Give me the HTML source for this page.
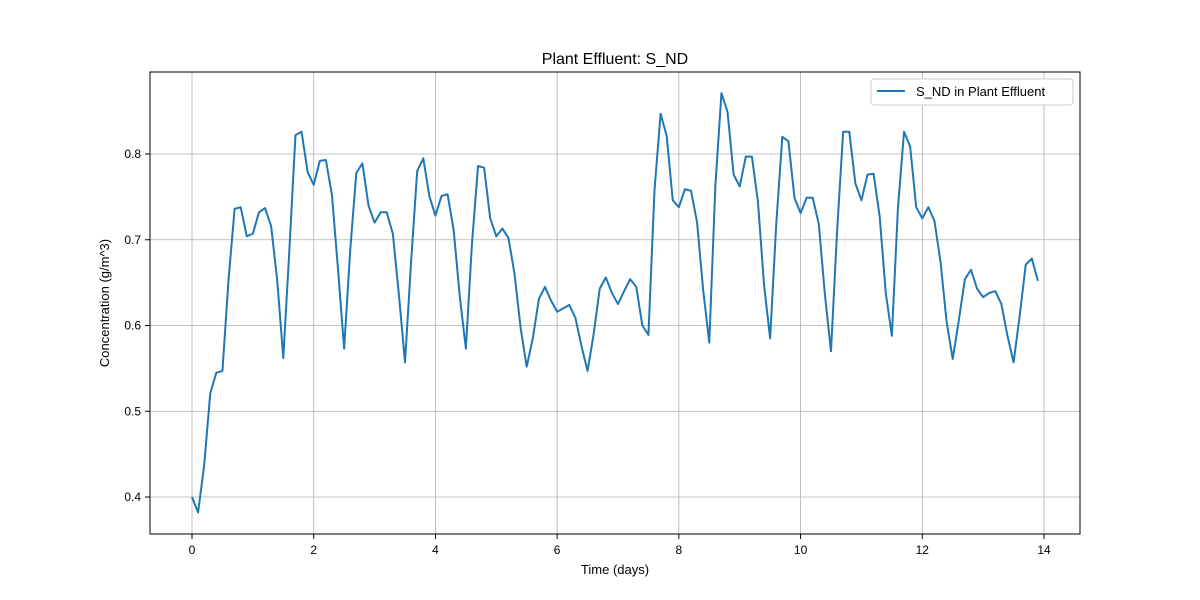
<!DOCTYPE html>
<html><head><meta charset="utf-8"><style>
body{margin:0;background:#fff;}
svg{display:block;font-family:"Liberation Sans","DejaVu Sans",sans-serif;}
</style></head><body>
<svg id="chart" width="1200" height="600" xmlns="http://www.w3.org/2000/svg">
<rect width="1200" height="600" fill="#fff"/>
<g id="grid"></g>
<rect x="150" y="72" width="930" height="462" fill="none" stroke="#000" stroke-width="1"/>
<g id="ticks"></g>
<path id="series" fill="none" stroke="#1f77b4" stroke-width="2" stroke-linejoin="round"/>
<text x="615" y="64" text-anchor="middle" font-size="16">Plant Effluent: S_ND</text>
<text x="615" y="574" text-anchor="middle" font-size="13">Time (days)</text>
<text transform="translate(109,303) rotate(-90)" text-anchor="middle" font-size="13">Concentration (g/m^3)</text>
<g>
<rect x="871" y="79" width="202" height="26" rx="3" fill="#fff" stroke="#ccc"/>
<line x1="877" y1="91" x2="905" y2="91" stroke="#1f77b4" stroke-width="2"/>
<text x="916" y="96" font-size="13">S_ND in Plant Effluent</text>
</g>
</svg>
<script>
const xTicks=[0,2,4,6,8,10,12,14];
const yTicks=[0.4,0.5,0.6,0.7,0.8];
const tStart=0, tStep=0.1;
const values=[0.400,0.382,0.437,0.521,0.545,0.547,0.653,0.736,0.738,0.704,
0.707,0.732,0.737,0.716,0.653,0.562,0.688,0.822,0.826,0.779,
0.764,0.792,0.793,0.752,0.665,0.573,0.688,0.778,0.789,0.740,
0.720,0.732,0.732,0.707,0.636,0.557,0.674,0.780,0.795,0.751,
0.728,0.751,0.753,0.711,0.634,0.573,0.695,0.786,0.784,0.725,
0.704,0.713,0.702,0.660,0.597,0.552,0.585,0.631,0.645,0.629,
0.616,0.620,0.624,0.609,0.576,0.547,0.590,0.643,0.656,0.638,
0.625,0.640,0.654,0.645,0.600,0.589,0.758,0.847,0.821,0.746,
0.738,0.759,0.757,0.720,0.641,0.580,0.763,0.871,0.849,0.776,
0.762,0.797,0.797,0.744,0.647,0.585,0.718,0.820,0.815,0.749,
0.731,0.749,0.749,0.718,0.636,0.570,0.710,0.826,0.826,0.766,
0.746,0.776,0.777,0.727,0.638,0.588,0.737,0.826,0.809,0.738,
0.725,0.738,0.722,0.674,0.604,0.561,0.606,0.654,0.665,0.643,
0.633,0.638,0.640,0.625,0.588,0.557,0.611,0.671,0.678,0.652];
const xs=t=>192+(t-0)*(1044-192)/14;
const ys=v=>154+(0.8-v)*(497-154)/0.4;
const NS="http://www.w3.org/2000/svg";
const grid=document.getElementById('grid'),ticks=document.getElementById('ticks');
function mk(tag,attrs,parent){const e=document.createElementNS(NS,tag);for(const k in attrs)e.setAttribute(k,attrs[k]);parent.appendChild(e);return e;}
xTicks.forEach(t=>{const x=xs(t);
 const g=mk('line',{x1:x,x2:x,y1:72,y2:534,stroke:'#b0b0b0','stroke-width':0.8},grid);
 
 
 mk('line',{x1:x,x2:x,y1:534,y2:539,stroke:'#000'},ticks);
 const l=mk('text',{x:x,y:554,'text-anchor':'middle','font-size':12},ticks);l.textContent=t;
 
 
});
yTicks.forEach(v=>{const y=ys(v);
 const g=mk('line',{x1:150,x2:1080,y1:y,y2:y,stroke:'#b0b0b0','stroke-width':0.8},grid);
 
 
 mk('line',{x1:145,x2:150,y1:y,y2:y,stroke:'#000'},ticks);
 const l=mk('text',{x:141,y:y+4,'text-anchor':'end','font-size':12},ticks);l.textContent=v.toFixed(1);
 
 
});
document.getElementById('series').setAttribute('d',values.map((v,i)=>(i?'L':'M')+xs(tStart+i*tStep).toFixed(2)+','+ys(v).toFixed(2)).join(''));
</script>
</body></html>
